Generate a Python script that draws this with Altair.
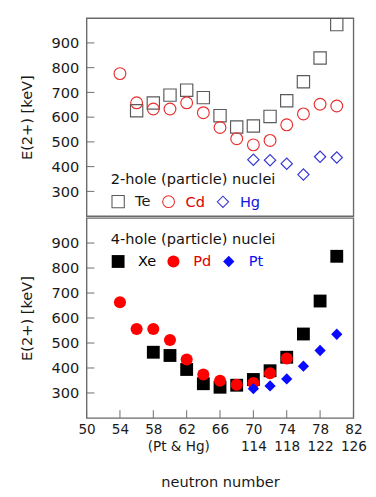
import altair as alt
import pandas as pd

FONT = "DejaVu Sans"

# ---- data ----
te_n = [56, 58, 60, 62, 64, 66, 68, 70, 72, 74, 76, 78, 80]
te_e = [626, 657, 689, 709, 679, 606, 560, 564, 603, 666, 743, 839, 974]
cd_n = [54, 56, 58, 60, 62, 64, 66, 68, 70, 72, 74, 76, 78, 80]
cd_e = [776, 658, 633, 633, 658, 618, 558, 513, 488, 506, 569, 613, 652, 645]
hg_n = [70, 72, 74, 76, 78, 80]
hg_e = [428, 426, 412, 368, 440, 437]

xe_n = [58, 60, 62, 64, 66, 68, 70, 72, 74, 76, 78, 80]
xe_e = [463, 450, 394, 337, 323, 331, 354, 389, 443, 536, 668, 847]
pd_n = [54, 56, 58, 60, 62, 64, 66, 68, 70, 72, 74]
pd_e = [663, 556, 556, 512, 434, 374, 349, 333, 340, 379, 438]
pt_n = [70, 72, 74, 76, 78, 80]
pt_e = [317, 328, 356, 407, 470, 535]

x_ticks = [50, 54, 58, 62, 66, 70, 74, 78, 82]
y_ticks = [300, 400, 500, 600, 700, 800, 900]
# second row of x labels (Pt & Hg neutron numbers)
second_pos = [61, 70, 74, 78, 82]
second_txt = ["(Pt & Hg)", "114", "118", "122", "126"]

top_series = ["Te", "Cd", "Hg"]
top_colors = ["#5a5a5a", "#e83030", "#3535d5"]
top_label_colors = ["#1a1a1a", "#e00000", "#1515dd"]
top_shapes = ["square", "circle", "diamond"]
top_sizes = [160, 135, 135]

bot_series = ["Xe", "Pd", "Pt"]
bot_colors = ["#000000", "#ff0000", "#0a0aff"]
bot_label_colors = ["#000000", "#e00000", "#1010ee"]
bot_shapes = ["square", "circle", "diamond"]
bot_sizes = [175, 135, 110]

W = 275
H_TOP = 204
H_BOT = 206
GRAY = "#6a6a6a"


def frame(ns, es, names):
    rows = []
    for n_list, e_list, name in zip(ns, es, names):
        for n, e in zip(n_list, e_list):
            rows.append({"N": n, "E": e, "series": name})
    return pd.DataFrame(rows)


top_df = frame([te_n, cd_n, hg_n], [te_e, cd_e, hg_e], top_series)
bot_df = frame([xe_n, pd_n, pt_n], [xe_e, pd_e, pt_e], bot_series)

xscale = alt.Scale(domain=[50, 82], nice=False, zero=False)
yscale = alt.Scale(domain=[200, 1000], nice=False, zero=False)

yaxis = alt.Axis(values=y_ticks, ticks=False, domain=False, grid=False,
                 labelPadding=8, labelFontSize=15, title="E(2+) [keV]", titlePadding=17,
                 labelFlush=False, labelOverlap=False)

parts = []
for p, t in zip(second_pos, second_txt):
    first = "''" if p not in x_ticks else "datum.label"
    parts.append(f"datum.value == {p} ? [{first}, '{t}']")
label_expr = " : ".join(parts) + " : datum.label"

xaxis_bot = alt.Axis(values=x_ticks + [61], ticks=False, domain=False, grid=False,
                     labelPadding=5, labelLineHeight=18, labelFontSize=14, labelExpr=label_expr,
                     labelFlush=False, labelOverlap=False, labelBound=False,
                     title="neutron number", titlePadding=22)


def color_expr(names, cols):
    s = ""
    for n, c in zip(names, cols):
        s += f"datum.value == '{n}' ? '{c}' : "
    return s + "'black'"


def legend(title, names, lcols, x, y, sym, offset):
    return alt.Legend(title=title, orient="none", legendX=x, legendY=y,
                      direction="horizontal", titleFontWeight="normal",
                      titleFontSize=15, titleFont=FONT, titleColor="#111",
                      labelFontSize=15, labelFont=FONT,
                      labelColor=alt.ExprRef(color_expr(names, lcols)),
                      symbolSize=sym, symbolStrokeWidth=1.1,
                      labelOffset=offset, columnPadding=10, titlePadding=7)


def panel(df, names, colors, shapes, sizes, filled, leg, xaxis, height):
    pts = alt.Chart(df).mark_point(filled=filled, opacity=1, strokeWidth=1.2).encode(
        x=alt.X("N:Q", scale=xscale, axis=xaxis),
        y=alt.Y("E:Q", scale=yscale, axis=yaxis),
        color=alt.Color("series:N", scale=alt.Scale(domain=names, range=colors), legend=leg),
        shape=alt.Shape("series:N", scale=alt.Scale(domain=names, range=shapes), legend=leg),
        size=alt.Size("series:N", scale=alt.Scale(domain=names, range=sizes), legend=None),
        order=alt.Order("ord:Q"),
    ).transform_calculate(
        ord=" : ".join([f"datum.series == '{n}' ? {i}" for i, n in enumerate(names)]) + " : 9"
    )
    ytk = alt.Chart(pd.DataFrame({"E": y_ticks})).mark_rule(color=GRAY, strokeWidth=1).encode(
        y=alt.Y("E:Q", scale=yscale, axis=yaxis),
        x=alt.value(0), x2=alt.value(8),
    )
    layers = [ytk]
    if xaxis is not None:
        xtk = alt.Chart(pd.DataFrame({"N": x_ticks})).mark_rule(color=GRAY, strokeWidth=1).encode(
            x=alt.X("N:Q", scale=xscale, axis=xaxis),
            y=alt.value(height - 8), y2=alt.value(height),
        )
        layers.append(xtk)
    layers.append(pts)
    return alt.layer(*layers).properties(width=W, height=height)


top = panel(top_df, top_series, top_colors, top_shapes, top_sizes, False,
            legend("2-hole (particle) nuclei", top_series, top_label_colors, 25, 159, 64, 10),
            None, H_TOP)
bot = panel(bot_df, bot_series, bot_colors, bot_shapes, bot_sizes, True,
            legend("4-hole (particle) nuclei", bot_series, bot_label_colors, 25, 15, 90, 13),
            xaxis_bot, H_BOT)

chart = alt.vconcat(top, bot, spacing=0).resolve_scale(
    color="independent", shape="independent", size="independent"
).resolve_legend(color="independent", shape="independent").properties(
    padding={"left": 11, "top": 0, "right": 0, "bottom": 0}
).configure_view(
    stroke=GRAY, strokeWidth=1.4
).configure_axis(
    labelFont=FONT, labelColor="#1a1a1a",
    titleFont=FONT, titleFontSize=15, titleFontWeight="normal", titleColor="#1a1a1a"
)

chart.save("out.html", embed_options={"renderer": "svg", "actions": False})
